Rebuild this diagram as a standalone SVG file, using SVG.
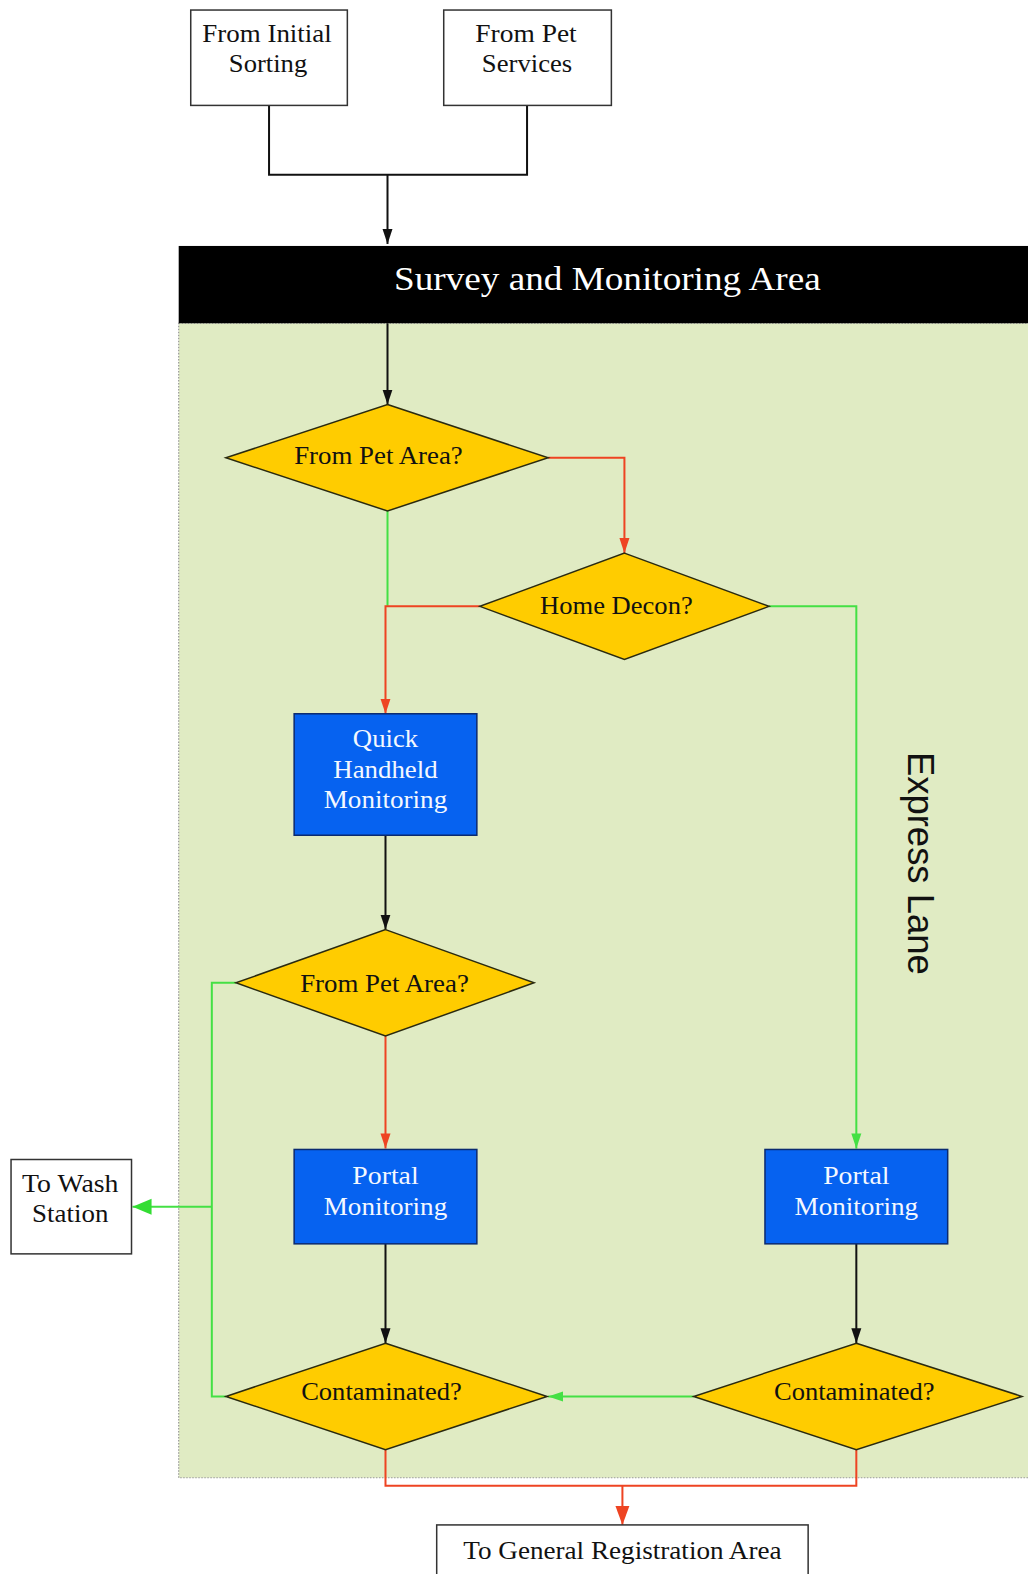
<svg xmlns="http://www.w3.org/2000/svg" width="1028" height="1574" viewBox="0 0 1028 1574">
<style>
.box{fill:#fff;stroke:#333;stroke-width:1.5}
.dia{fill:#ffcc00;stroke:#2a2a10;stroke-width:1.5}
.blue{fill:#0662f0;stroke:#0a2a70;stroke-width:1.5}
.t{font-family:"Liberation Serif","Times New Roman",serif;font-size:25px;fill:#111;text-anchor:middle}
.w{fill:#f4f8ff}
.k{fill:none;stroke:#111;stroke-width:2}
.g{fill:none;stroke:#44e044;stroke-width:2}
.r{fill:none;stroke:#ee4422;stroke-width:2}
</style>
<defs>
<marker id="ak" markerUnits="userSpaceOnUse" markerWidth="16" markerHeight="12" refX="15" refY="6" orient="auto"><path d="M0,1 L15,6 L0,11 z" fill="#111"/></marker>
<marker id="ar" markerUnits="userSpaceOnUse" markerWidth="16" markerHeight="12" refX="15" refY="6" orient="auto"><path d="M0,1 L15,6 L0,11 z" fill="#ee4422"/></marker>
<marker id="ar2" markerUnits="userSpaceOnUse" markerWidth="20" markerHeight="16" refX="19" refY="8" orient="auto"><path d="M0,1 L19,8 L0,15 z" fill="#ee4422"/></marker>
<marker id="ag" markerUnits="userSpaceOnUse" markerWidth="16" markerHeight="12" refX="15" refY="6" orient="auto"><path d="M0,1 L15,6 L0,11 z" fill="#44e044"/></marker>
<marker id="ag2" markerUnits="userSpaceOnUse" markerWidth="20" markerHeight="18" refX="19" refY="9" orient="auto"><path d="M0,1 L19,9 L0,17 z" fill="#33dd33"/></marker>
</defs>
<g transform="scale(1.0039)">
<g id="area">
<rect x="178" y="322" width="850" height="1150" fill="#e0ebc3" stroke="#999" stroke-width="1.2" stroke-dasharray="1.5,1.5"/>
<rect x="178" y="245" width="850" height="77" fill="#000"/>
<text x="605" y="289" class="t" style="font-size:34px;fill:#fff" textLength="425" lengthAdjust="spacingAndGlyphs">Survey and Monitoring Area</text>
<text transform="translate(904,860) rotate(90)" style="font-family:'Liberation Sans',Arial,sans-serif;font-size:36px;fill:#111;text-anchor:middle" textLength="222" lengthAdjust="spacingAndGlyphs">Express Lane</text>
</g>
<g id="connectors">
<path class="k" d="M268,105 V174 H525 V105"/>
<path class="k" d="M386,174 V243" marker-end="url(#ak)"/>
<path class="k" d="M386,322 V403" marker-end="url(#ak)"/>
<path class="r" d="M546,456 H622 V551" marker-end="url(#ar)"/>
<path class="g" d="M386,509 V604"/>
<path class="r" d="M478,604 H384 V711" marker-end="url(#ar)"/>
<path class="g" d="M766,604 H853 V1144" marker-end="url(#ag)"/>
<path class="k" d="M384,832 V926" marker-end="url(#ak)"/>
<path class="g" d="M235,979 H211 V1391 H225"/>
<path class="g" d="M211,1202 H132" marker-end="url(#ag2)"/>
<path class="r" d="M384,1032 V1144" marker-end="url(#ar)"/>
<path class="k" d="M384,1239 V1338" marker-end="url(#ak)"/>
<path class="k" d="M853,1239 V1338" marker-end="url(#ak)"/>
<path class="g" d="M691,1391 H546" marker-end="url(#ag)"/>
<path class="r" d="M384,1444 V1480 H853 V1444"/>
<path class="r" d="M620,1480 V1519" marker-end="url(#ar2)"/>
</g>
<g id="from-initial">
<rect class="box" x="190" y="10" width="156" height="95"/>
<text class="t" x="266" y="42" textLength="129" lengthAdjust="spacingAndGlyphs">From Initial</text>
<text class="t" x="267" y="72" textLength="78" lengthAdjust="spacingAndGlyphs">Sorting</text>
</g>
<g id="from-pet">
<rect class="box" x="442" y="10" width="167" height="95"/>
<text class="t" x="524" y="42" textLength="101" lengthAdjust="spacingAndGlyphs">From Pet</text>
<text class="t" x="525" y="72" textLength="90" lengthAdjust="spacingAndGlyphs">Services</text>
</g>
<g id="d-pet1">
<polygon class="dia" points="386,403 546,456 386,509 225,456"/>
<text class="t" x="377" y="462" textLength="168" lengthAdjust="spacingAndGlyphs">From Pet Area?</text>
</g>
<g id="d-home">
<polygon class="dia" points="622,551 766,604 622,657 478,604"/>
<text class="t" x="614" y="612" textLength="152" lengthAdjust="spacingAndGlyphs">Home Decon?</text>
</g>
<g id="quick">
<rect class="blue" x="293" y="711" width="182" height="121"/>
<text class="t w" x="384" y="744" textLength="65" lengthAdjust="spacingAndGlyphs">Quick</text>
<text class="t w" x="384" y="775" textLength="104" lengthAdjust="spacingAndGlyphs">Handheld</text>
<text class="t w" x="384" y="805" textLength="123" lengthAdjust="spacingAndGlyphs">Monitoring</text>
</g>
<g id="d-pet2">
<polygon class="dia" points="384,926 532,979 384,1032 235,979"/>
<text class="t" x="383" y="988" textLength="168" lengthAdjust="spacingAndGlyphs">From Pet Area?</text>
</g>
<g id="portal1">
<rect class="blue" x="293" y="1145" width="182" height="94"/>
<text class="t w" x="384" y="1179" textLength="66" lengthAdjust="spacingAndGlyphs">Portal</text>
<text class="t w" x="384" y="1210" textLength="123" lengthAdjust="spacingAndGlyphs">Monitoring</text>
</g>
<g id="portal2">
<rect class="blue" x="762" y="1145" width="182" height="94"/>
<text class="t w" x="853" y="1179" textLength="66" lengthAdjust="spacingAndGlyphs">Portal</text>
<text class="t w" x="853" y="1210" textLength="123" lengthAdjust="spacingAndGlyphs">Monitoring</text>
</g>
<g id="d-cont1">
<polygon class="dia" points="384,1338 545,1391 384,1444 225,1391"/>
<text class="t" x="380" y="1395" textLength="160" lengthAdjust="spacingAndGlyphs">Contaminated?</text>
</g>
<g id="d-cont2">
<polygon class="dia" points="853,1338 1018,1391 853,1444 691,1391"/>
<text class="t" x="851" y="1395" textLength="160" lengthAdjust="spacingAndGlyphs">Contaminated?</text>
</g>
<g id="wash">
<rect class="box" x="11" y="1155" width="120" height="94"/>
<text class="t" x="70" y="1187" textLength="96" lengthAdjust="spacingAndGlyphs">To Wash</text>
<text class="t" x="70" y="1217" textLength="76" lengthAdjust="spacingAndGlyphs">Station</text>
</g>
<g id="general">
<rect class="box" x="435" y="1519" width="370" height="60"/>
<text class="t" x="620" y="1553" textLength="317" lengthAdjust="spacingAndGlyphs">To General Registration Area</text>
</g>
</g>
</svg>
